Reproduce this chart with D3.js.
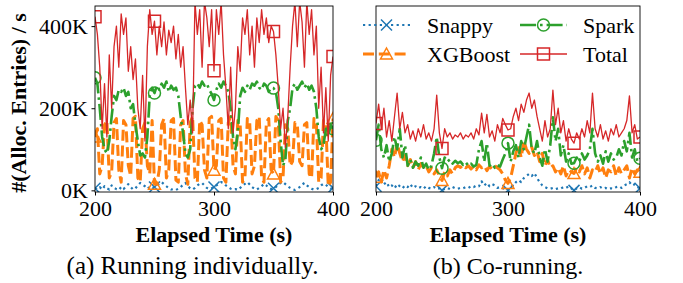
<!DOCTYPE html>
<html><head><meta charset="utf-8">
<script src="https://cdn.jsdelivr.net/npm/d3@7"></script>
<style>
body{margin:0;background:#fff}
svg{display:block}
text{font-family:"Liberation Serif","Times New Roman",serif;fill:#000}
</style>
</head><body>
<svg id="c" width="683" height="283"></svg>
<script>
// ---------------- data (values in thousands of entries / s) ----------------
const times = d3.range(200, 401, 2);            // sample times (s)
const markTimes = [200, 250, 300, 350, 400];      // marker positions
const xTicks = [200, 300, 400];
const yTicks = [0, 200, 400];
const yTickLabels = ["0K", "200K", "400K"];
const seriesNames = ["Snappy", "XGBoost", "Spark", "Total"];
const captions = ["(a) Running individually.", "(b) Co-running."];

// (a) running individually
const leftSnappy = [5,3,8,2,10,5,2,12,6,3, 1,8,3,10,15,8,2,5,12,18, 14,10,4,8,5,8,12,16,20,15, 10,5,2,3,1,4,8,14,18,10,
  5,2,6,12,16,18,12,6,3,5, 8,12,16,20,18,12,8,4,2,3, 1,6,12,16,20,14,8,4,2,6, 10,16,12,6,3,5,8,14,18,20,
  15,10,6,3,1,4,8,14,18,12, 8,4,2,3,6,12,16,14,8,4, 6];
const leftXGBoost = [130,150,40,60,160,170,30,45,165,175, 50,20,170,160,60,35,175,180,30,20, 150,165,60,40,170,15,15,50,160,175,
  30,50,170,175,25,20,160,170,40,15, 165,180,30,20,170,160,50,30,175,180, 49,60,170,175,30,20,165,180,60,40,
  170,160,20,30,175,165,40,60,170,180, 30,20,165,175,50,40,180,170,20,30, 160,150,60,70,165,160,70,60,160,165,
  40,30,175,165,20,30,170,160,10,20, 175];
const leftSpark = [274,260,200,130,100,90,120,180,230,220, 245,240,250,230,240,200,210,160,120,85, 90,80,130,230,250,237,255,245,260,250,
  265,240,255,245,250,230,180,140,90,80, 100,200,255,260,250,265,255,260,245,235, 220,245,260,250,265,255,240,200,130,100,
  140,230,250,240,255,245,260,255,265,250, 245,260,255,240,250,249,240,200,120,60, 75,170,200,250,260,245,255,265,250,260,
  245,255,240,200,130,100,110,150,130,160, 150];
const leftTotal = [423,380,300,150,260,130,330,200,350,400, 300,430,380,420,290,350,270,320,200,150, 280,120,350,440,380,412,330,400,350,410,
  330,390,360,400,320,380,300,350,250,160, 220,140,460,380,440,300,460,420,350,440, 291,440,380,460,330,250,150,300,140,200,
  350,290,420,380,440,330,400,300,420,360, 440,380,420,360,400,387,330,250,150,200, 105,180,300,400,460,350,460,410,300,460,
  380,440,330,400,200,300,140,250,120,280, 326];

// (b) co-running
const rightSnappy = [10,25,30,15,20,8,12,5,15,10, 5,12,8,15,6,10,5,8,4,10, 6,4,8,3,5,0,4,6,3,8, 5,4,6,5,8,6,10,8,12,10,
  22,12,18,10,15,12,6,8,5,3, 0,8,12,20,25,20,30,35,40,35, 42,30,20,12,8,5,4,6,3,5, 4,8,6,10,5,0,5,8,4,6,
  10,8,12,6,5,8,4,6,3,5, 4,8,10,6,12,15,20,12,15,8, 5];
const rightXGBoost = [32,45,20,50,30,60,100,80,115,90, 70,85,60,75,55,70,50,65,55,60, 45,55,40,50,35,24,45,35,50,40,
  55,60,56,62,55,60,52,58,50,62, 55,60,48,58,52,60,55,50,40,25, 17,30,60,90,110,80,120,100,90,105,
  85,95,70,90,60,75,55,60,45,55, 40,60,35,50,45,41,55,45,60,40, 55,30,50,45,60,40,55,30,50,45,
  60,35,55,40,50,60,30,55,40,50, 44];
const rightSpark = [122,160,100,80,110,70,90,130,100,150, 80,110,60,75,55,70,60,80,55,65, 50,60,90,130,80,54,80,70,75,65,
  72,66,70,62,68,60,65,58,62,100, 120,70,115,60,65,55,62,58,75,90, 115,70,95,110,80,120,100,130,160,100,
  90,120,80,60,100,70,110,178,120,150, 85,110,70,90,65,66,80,70,90,75, 85,100,150,90,70,85,65,95,70,90,
  75,80,100,85,120,95,140,80,100,70, 78];
const rightTotal = [163,210,150,200,130,170,120,180,237,150, 190,140,160,125,145,120,150,130,160,125, 140,120,150,232,140,102,150,130,140,125,
  135,130,140,125,135,130,140,125,150,135, 188,140,185,130,145,120,160,140,175,160, 147,150,180,200,170,210,190,220,237,200,
  220,180,150,120,170,130,150,244,160,200, 140,170,120,150,125,115,140,125,150,130, 170,140,237,150,130,160,125,145,120,150,
  135,160,130,140,150,170,230,140,160,125, 130];

// ---------------- styles ----------------
const styles = {
  Snappy:  {color:"#1f77b4", width:2.2, dash:"2.2,3.4", marker:"x"},
  XGBoost: {color:"#ff7f0e", width:3,   dash:"11,4.8",  marker:"tri"},
  Spark:   {color:"#2ca02c", width:2.6, dash:"16,4,2.6,4", marker:"circ"},
  Total:   {color:"#d62728", width:1.3, dash:null,      marker:"sq"}
};
const markerPath = {
  x:   "M-5.5,-5.5L5.5,5.5M-5.5,5.5L5.5,-5.5",
  tri: "M0,-6L6,5L-6,5Z",
  circ:"M6,0A6,6 0 1 1 -6,0A6,6 0 1 1 6,0Z",
  sq:  "M-6,-6H6V6H-6Z"
};

const panels = [
  {x0:95,  x1:333, data:{Snappy:leftSnappy, XGBoost:leftXGBoost, Spark:leftSpark, Total:leftTotal}, yLabels:true, caption:captions[0], capX:192.5, capFS:25},
  {x0:376, x1:640, data:{Snappy:rightSnappy, XGBoost:rightXGBoost, Spark:rightSpark, Total:rightTotal}, yLabels:false, caption:captions[1], capX:508, capFS:24}
];
const plotTop = 6, plotBottom = 192;
const y = d3.scaleLinear().domain([-4, 449]).range([plotBottom, plotTop]);
const svg = d3.select("#c");
const FS = 22;

panels.forEach((p, pi) => {
  const x = d3.scaleLinear().domain([200, 400]).range([p.x0, p.x1]);
  const clipId = "clip" + pi;
  svg.append("clipPath").attr("id", clipId).append("rect")
    .attr("x", p.x0).attr("y", plotTop).attr("width", p.x1 - p.x0).attr("height", plotBottom - plotTop);
  const g = svg.append("g").attr("clip-path", `url(#${clipId})`);
  const line = d3.line().x((d, i) => x(times[i])).y(d => y(d));
  seriesNames.forEach(name => {
    const s = styles[name], vals = p.data[name];
    g.append("path").attr("d", line(vals)).attr("fill", "none")
      .attr("stroke", s.color).attr("stroke-width", s.width)
      .attr("stroke-dasharray", s.dash).attr("stroke-linejoin", "round");
    markTimes.forEach(t => {
      const i = times.indexOf(t);
      g.append("path").attr("d", markerPath[s.marker])
        .attr("transform", `translate(${x(t)},${y(vals[i])})`)
        .attr("fill", "none").attr("stroke", s.color).attr("stroke-width", 1.5);
    });
  });
  svg.append("rect").attr("x", p.x0).attr("y", plotTop).attr("width", p.x1 - p.x0).attr("height", plotBottom - plotTop)
    .attr("fill", "none").attr("stroke", "#000").attr("stroke-width", 0.9);
  const xa = svg.append("g").attr("transform", `translate(0,${plotBottom})`)
    .call(d3.axisBottom(x).tickValues(xTicks).tickSize(3.5).tickPadding(5).tickFormat(d3.format("d")));
  xa.select(".domain").remove();
  xa.selectAll("text").style("font-size", FS + "px");
  if (p.yLabels) {
    const ya = svg.append("g").attr("transform", `translate(${p.x0},0)`)
      .call(d3.axisLeft(y).tickValues(yTicks).tickSize(3.5).tickPadding(3.5).tickFormat((d, i) => yTickLabels[i]));
    ya.select(".domain").remove();
    ya.selectAll("text").style("font-size", FS + "px");
    svg.append("text").attr("transform", "translate(26,103) rotate(-90)")
      .attr("text-anchor", "middle").style("font-size", FS + "px").style("font-weight", "bold")
      .text("#(Alloc. Entries) / s");
  }
  svg.append("text").attr("x", (p.x0 + p.x1) / 2).attr("y", 242).attr("text-anchor", "middle")
    .style("font-size", FS + "px").style("font-weight", "bold").text("Elapsed Time (s)");
  svg.append("text").attr("x", p.capX).attr("y", 274).attr("text-anchor", "middle")
    .style("font-size", p.capFS + "px").text(p.caption);
});

const legendPos = [
  {name:"Snappy",  hx:363, tx:427, y:25},
  {name:"XGBoost", hx:363, tx:427, y:54},
  {name:"Spark",   hx:520, tx:583, y:25},
  {name:"Total",   hx:520, tx:583, y:54}
];
legendPos.forEach(l => {
  const s = styles[l.name];
  svg.append("line").attr("x1", l.hx).attr("x2", l.hx + 47).attr("y1", l.y).attr("y2", l.y)
    .attr("stroke", s.color).attr("stroke-width", s.width).attr("stroke-dasharray", s.dash);
  svg.append("path").attr("d", markerPath[s.marker]).attr("transform", `translate(${l.hx + 23.5},${l.y})`)
    .attr("fill", "none").attr("stroke", s.color).attr("stroke-width", 1.5);
  svg.append("text").attr("x", l.tx).attr("y", l.y + 8).style("font-size", FS + "px").text(l.name);
});
</script>
</body></html>
